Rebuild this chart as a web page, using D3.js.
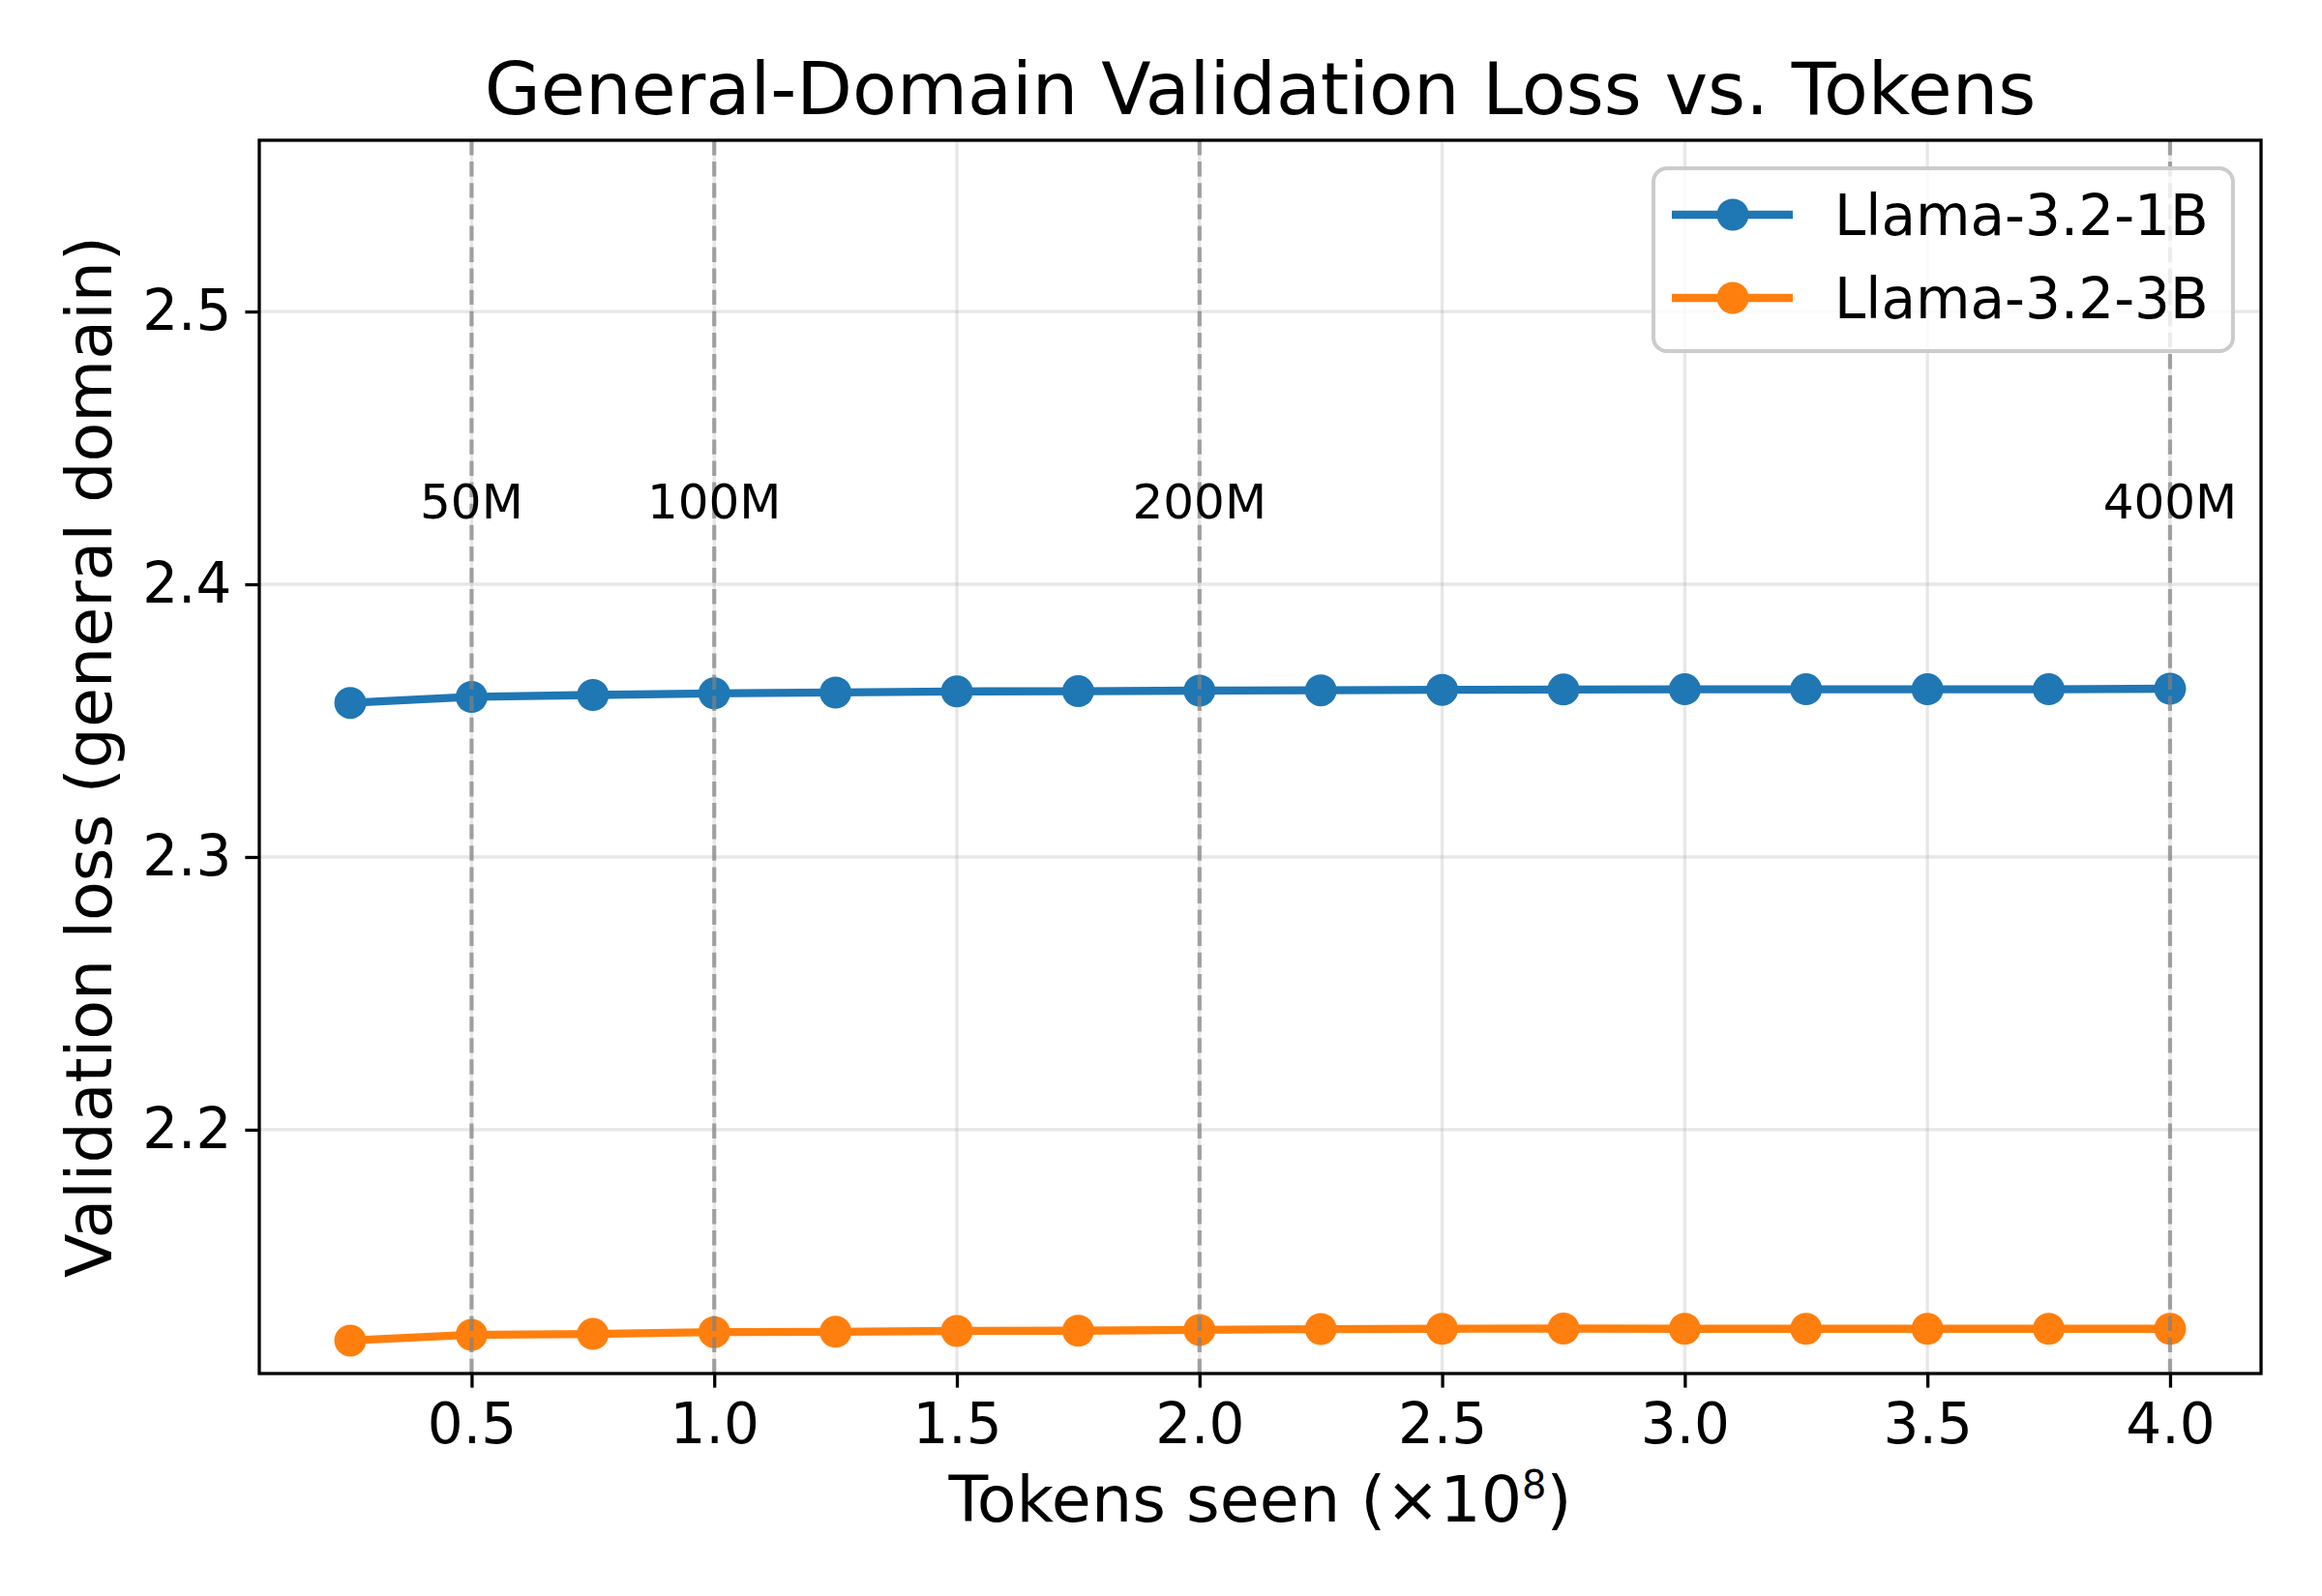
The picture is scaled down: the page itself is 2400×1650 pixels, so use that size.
<!DOCTYPE html>
<html>
<head>
<meta charset="utf-8">
<script src="https://cdn.jsdelivr.net/npm/d3@7"></script>
<style>
  body { margin: 0; background: #fff; }
  svg { font-family: "DejaVu Sans", sans-serif; }
</style>
</head>
<body>
<svg id="chart" width="2400" height="1650"></svg>
<script>
// tokens seen, in units of 1e8
const tokens = [0.25, 0.5, 0.75, 1.0, 1.25, 1.5, 1.75, 2.0, 2.25, 2.5, 2.75, 3.0, 3.25, 3.5, 3.75, 4.0];
const loss1B = [2.3565, 2.3587, 2.3594, 2.3600, 2.3603, 2.3607, 2.3608, 2.3610, 2.3611, 2.3613, 2.3614, 2.3615, 2.3615, 2.3615, 2.3615, 2.3617];
const loss3B = [2.1227, 2.1248, 2.1251, 2.1258, 2.1259, 2.1262, 2.1263, 2.1266, 2.1269, 2.1270, 2.1271, 2.1270, 2.1270, 2.1270, 2.1270, 2.1270];
const seriesNames = ['Llama-3.2-1B', 'Llama-3.2-3B'];
const seriesColors = ['#1f77b4', '#ff7f0e'];
const markTokens = [0.5, 1.0, 2.0, 4.0];
const markLabels = ['50M', '100M', '200M', '400M'];
const xTicks = [0.5, 1.0, 1.5, 2.0, 2.5, 3.0, 3.5, 4.0];
const yTicks = [2.2, 2.3, 2.4, 2.5];

function drawChart() {
  const svg = d3.select('#chart');

  const margin = {top: 145, right: 63, bottom: 230, left: 268},
    width = 2400,
    height = 1650;

  const x = d3.scaleLinear()
    .domain([0.0625, 4.1875])
    .range([margin.left, width - margin.right]);

  const y = d3.scaleLinear()
    .domain([2.1106, 2.5628])
    .range([height - margin.bottom, margin.top]);

  const series = seriesNames.map((name, i) => ({
    name: name,
    color: seriesColors[i],
    values: [loss1B, loss3B][i]
  }));

  // grid
  svg.append('g')
    .selectAll('line')
    .data(xTicks)
    .join('line')
      .attr('x1', d => x(d)).attr('x2', d => x(d))
      .attr('y1', margin.top).attr('y2', height - margin.bottom)
      .attr('stroke', '#b0b0b0').attr('stroke-opacity', 0.3).attr('stroke-width', 3.3);

  svg.append('g')
    .selectAll('line')
    .data(yTicks)
    .join('line')
      .attr('x1', margin.left).attr('x2', width - margin.right)
      .attr('y1', d => y(d)).attr('y2', d => y(d))
      .attr('stroke', '#b0b0b0').attr('stroke-opacity', 0.3).attr('stroke-width', 3.3);

  // series
  const line = d3.line()
    .x((d, i) => x(tokens[i]))
    .y(d => y(d));

  const g = svg.selectAll('g.series')
    .data(series)
    .join('g')
      .attr('class', 'series');

  g.append('path')
    .attr('d', d => line(d.values))
    .attr('fill', 'none')
    .attr('stroke', d => d.color)
    .attr('stroke-width', 8.3)
    .attr('stroke-linejoin', 'round');

  g.selectAll('circle')
    .data(d => d.values.map((v, i) => ({v: v, t: tokens[i], color: d.color})))
    .join('circle')
      .attr('cx', d => x(d.t))
      .attr('cy', d => y(d.v))
      .attr('r', 16.5)
      .attr('fill', d => d.color);

  // token milestones
  svg.append('g')
    .selectAll('line')
    .data(markTokens)
    .join('line')
      .attr('x1', d => x(d)).attr('x2', d => x(d))
      .attr('y1', margin.top).attr('y2', height - margin.bottom)
      .attr('stroke', '#808080').attr('stroke-opacity', 0.7)
      .attr('stroke-width', 4.2)
      .attr('stroke-dasharray', '15.4,6.7');

  svg.append('g')
    .selectAll('text')
    .data(markTokens)
    .join('text')
      .attr('x', d => x(d))
      .attr('y', y(2.43))
      .attr('text-anchor', 'middle')
      .attr('dominant-baseline', 'central')
      .attr('font-size', 50)
      .text((d, i) => markLabels[i]);

  // axes
  svg.append('g')
    .attr('transform', `translate(0, ${height - margin.bottom})`)
    .attr('class', 'axis')
    .call(d3.axisBottom(x).tickValues(xTicks).tickFormat(d3.format('.1f')).tickSize(14.6).tickPadding(16))
    .call(a => a.select('.domain').remove())
    .call(a => a.selectAll('line').attr('stroke-width', 3.3))
    .call(a => a.selectAll('text').attr('font-size', 58).attr('font-family', 'DejaVu Sans'));

  svg.append('g')
    .attr('transform', `translate(${margin.left}, 0)`)
    .attr('class', 'axis')
    .call(d3.axisLeft(y).tickValues(yTicks).tickFormat(d3.format('.1f')).tickSize(14.6).tickPadding(14))
    .call(a => a.select('.domain').remove())
    .call(a => a.selectAll('line').attr('stroke-width', 3.3))
    .call(a => a.selectAll('text').attr('font-size', 58).attr('font-family', 'DejaVu Sans'));

  svg.append('rect')
    .attr('x', margin.left).attr('y', margin.top)
    .attr('width', width - margin.left - margin.right)
    .attr('height', height - margin.top - margin.bottom)
    .attr('fill', 'none').attr('stroke', '#000').attr('stroke-width', 3.3);

  // labels
  svg.append('text')
    .attr('x', (margin.left + width - margin.right) / 2)
    .attr('y', 118)
    .attr('text-anchor', 'middle')
    .attr('font-size', 75)
    .text('General-Domain Validation Loss vs. Tokens');

  const xl = svg.append('text')
    .attr('x', (margin.left + width - margin.right) / 2)
    .attr('y', 1573)
    .attr('text-anchor', 'middle')
    .attr('font-size', 66.7);
  xl.append('tspan').text('Tokens seen (×10');
  xl.append('tspan').attr('font-size', 40).attr('dy', -24).text('8');
  xl.append('tspan').attr('dy', 24).text(')');

  svg.append('text')
    .attr('transform', `translate(115, ${(margin.top + height - margin.bottom) / 2}) rotate(-90)`)
    .attr('text-anchor', 'middle')
    .attr('font-size', 66.7)
    .text('Validation loss (general domain)');

  // legend
  const legend = svg.append('g').attr('transform', 'translate(1709, 174)');
  legend.append('rect')
    .attr('width', 599).attr('height', 189)
    .attr('rx', 14)
    .attr('fill', '#fff').attr('fill-opacity', 0.8)
    .attr('stroke', '#cccccc').attr('stroke-width', 4);

  const item = legend.selectAll('g.item')
    .data(series)
    .join('g')
      .attr('class', 'item')
      .attr('transform', (d, i) => `translate(0, ${48 + i * 86})`);

  item.append('line')
    .attr('x1', 19).attr('x2', 144)
    .attr('stroke', d => d.color).attr('stroke-width', 8.3);
  item.append('circle')
    .attr('cx', 82).attr('r', 16.5)
    .attr('fill', d => d.color);
  item.append('text')
    .attr('x', 187)
    .attr('y', 21)
    .attr('font-size', 58)
    .text(d => d.name);
}

drawChart();
</script>
</body>
</html>
